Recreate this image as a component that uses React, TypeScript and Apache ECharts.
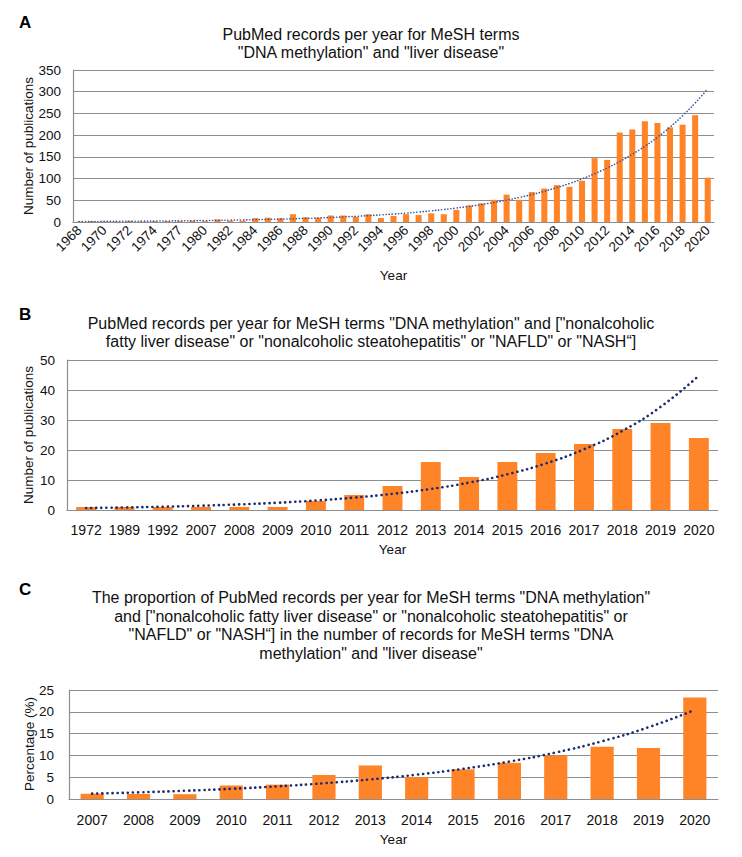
import React, { useEffect, useRef } from "react";
import * as echarts from "echarts";

// Panel A: "DNA methylation" and "liver disease"
const yearsA = [
  "1968", "1969", "1970", "1971", "1972", "1973", "1974", "1976", "1977", "1979",
  "1980", "1981", "1982", "1983", "1984", "1985", "1986", "1987", "1988", "1989",
  "1990", "1991", "1992", "1993", "1994", "1995", "1996", "1997", "1998", "1999",
  "2000", "2001", "2002", "2003", "2004", "2005", "2006", "2007", "2008", "2009",
  "2010", "2011", "2012", "2013", "2014", "2015", "2016", "2017", "2018", "2019", "2020",
];
const countsA = [
  1, 2, 1, 1, 3, 1, 2, 2, 2, 3,
  2, 6, 3, 3, 9, 10, 9, 18, 11, 10,
  15, 15, 12, 18, 9, 14, 18, 16, 20, 18,
  28, 38, 43, 51, 63, 51, 69, 77, 85, 81,
  95, 147, 143, 206, 213, 232, 228, 218, 224, 246, 102,
];

// Panel B: "DNA methylation" and NAFLD/NASH terms
const yearsB = [
  "1972", "1989", "1992", "2007", "2008", "2009", "2010", "2011", "2012",
  "2013", "2014", "2015", "2016", "2017", "2018", "2019", "2020",
];
const countsB = [1, 1, 1, 1, 1, 1, 3, 5, 8, 16, 11, 16, 19, 22, 27, 29, 24];

// Panel C: proportion (%)
const yearsC = [
  "2007", "2008", "2009", "2010", "2011", "2012", "2013",
  "2014", "2015", "2016", "2017", "2018", "2019", "2020",
];
const percentC = [1.2, 1.15, 1.1, 3.1, 3.3, 5.5, 7.7, 5.0, 6.8, 8.3, 10.0, 12.0, 11.7, 23.3];

const titleA = 'PubMed records per year for MeSH terms\n"DNA methylation" and "liver disease"';
const titleB =
  'PubMed records per year for MeSH terms "DNA methylation" and ["nonalcoholic\nfatty liver disease" or "nonalcoholic steatohepatitis" or "NAFLD" or "NASH\u201c]';
const titleC =
  'The proportion of PubMed records per year for MeSH terms "DNA methylation"\nand ["nonalcoholic fatty liver disease" or "nonalcoholic steatohepatitis" or\n"NAFLD" or "NASH\u201c] in the number of records for MeSH terms "DNA\nmethylation" and "liver disease"';
const yNameCount = "Number of publications";
const yNamePct = "Percentage (%)";

// Exponential trendline (least squares on ln(y) vs. category index), as in a spreadsheet trendline
function expTrend(vals: number[]): number[] {
  const n = vals.length;
  const xs = vals.map((_, i) => i + 1);
  const ly = vals.map((v) => Math.log(v));
  const mx = xs.reduce((s, x) => s + x, 0) / n;
  const my = ly.reduce((s, y) => s + y, 0) / n;
  let sxy = 0;
  let sxx = 0;
  for (let i = 0; i < n; i++) {
    sxy += (xs[i] - mx) * (ly[i] - my);
    sxx += (xs[i] - mx) * (xs[i] - mx);
  }
  const b = sxy / sxx;
  const a = my - b * mx;
  return xs.map((x) => +Math.exp(a + b * x).toFixed(3));
}

const FONT = "'Liberation Sans', Arial, sans-serif";
const BAR = "#FF8427";
const GRID = "#8e8e8e";

export default function App() {
  const ref = useRef<HTMLDivElement>(null);
  useEffect(() => {
    document.body.style.margin = "0";
    document.body.style.overflow = "hidden";
    if (!ref.current) return;
    const chart = echarts.init(ref.current, undefined, { renderer: "svg" });

    const yAxisBase = (idx: number, max: number, interval: number, margin: number) => ({
      type: "value",
      gridIndex: idx,
      min: 0,
      max,
      interval,
      axisLine: { show: true, lineStyle: { color: GRID, width: 1.2 } },
      axisTick: { show: false },
      axisLabel: { fontFamily: FONT, fontSize: 13.5, color: "#111", margin },
      splitLine: { show: true, lineStyle: { color: GRID, width: 1.2 } },
    });

    const xAxisBase = (idx: number, data: string[], nameGap: number, label: any) => ({
      type: "category",
      gridIndex: idx,
      data,
      name: "Year",
      nameLocation: "middle",
      nameGap,
      nameTextStyle: { fontFamily: FONT, fontSize: 13.5, color: "#111", verticalAlign: "top" },
      axisLine: { show: true, lineStyle: { color: GRID, width: 1.2 } },
      axisTick: { show: false },
      axisLabel: { fontFamily: FONT, fontSize: 14, color: "#111", ...label },
    });

    const letter = (text: string, top: number) => ({
      text,
      left: 14,
      top,
      textStyle: { fontFamily: FONT, fontSize: 17, fontWeight: "bold", color: "#000" },
    });
    const head = (text: string, top: number, lh: number) => ({
      text,
      left: "center",
      top,
      textStyle: { fontFamily: FONT, fontSize: 16, fontWeight: "normal", color: "#111", lineHeight: lh },
    });
    const yName = (text: string, x: number, y: number) => ({
      type: "text",
      x,
      y,
      rotation: Math.PI / 2,
      style: {
        text,
        fontFamily: FONT,
        fontSize: 13.5,
        fill: "#111",
        align: "center",
        verticalAlign: "middle",
      },
    });

    chart.setOption({
      animation: false,
      backgroundColor: "#fff",
      title: [
        letter("A", 9),
        head(titleA, 20, 18),
        letter("B", 301),
        head(titleB, 309, 18.5),
        letter("C", 576),
        head(titleC, 583, 18.7),
      ],
      graphic: [
        yName(yNameCount, 28, 146),
        yName(yNameCount, 28, 435),
        yName(yNamePct, 29, 744),
      ],
      grid: [
        { left: 73, right: 28, top: 70, height: 152 },
        { left: 67, right: 24, top: 360, height: 150 },
        { left: 69, right: 24, top: 690, height: 109 },
      ],
      xAxis: [
        xAxisBase(0, yearsA, 46, { rotate: 45, interval: 1, margin: 6, fontSize: 13.5 }),
        xAxisBase(1, yearsB, 32, { interval: 0, margin: 13 }),
        xAxisBase(2, yearsC, 33, { interval: 0, margin: 14 }),
      ],
      yAxis: [
        yAxisBase(0, 350, 50, 12),
        yAxisBase(1, 50, 10, 12),
        yAxisBase(2, 25, 5, 15),
      ],
      series: [
        {
          type: "bar",
          xAxisIndex: 0,
          yAxisIndex: 0,
          data: countsA,
          barWidth: "48%",
          itemStyle: { color: BAR },
        },
        {
          type: "line",
          xAxisIndex: 0,
          yAxisIndex: 0,
          data: expTrend(countsA),
          showSymbol: false,
          smooth: true,
          z: 5,
          lineStyle: { color: "#3552a3", width: 1.6, type: [0.1, 3], cap: "round" },
        },
        {
          type: "bar",
          xAxisIndex: 1,
          yAxisIndex: 1,
          data: countsB,
          barWidth: "52%",
          itemStyle: { color: BAR },
        },
        {
          type: "line",
          xAxisIndex: 1,
          yAxisIndex: 1,
          data: expTrend(countsB),
          showSymbol: false,
          smooth: true,
          z: 5,
          lineStyle: { color: "#1b2b6e", width: 2.6, type: [0.1, 5], cap: "round" },
        },
        {
          type: "bar",
          xAxisIndex: 2,
          yAxisIndex: 2,
          data: percentC,
          barWidth: "50%",
          itemStyle: { color: BAR },
        },
        {
          type: "line",
          xAxisIndex: 2,
          yAxisIndex: 2,
          data: expTrend(percentC),
          showSymbol: false,
          smooth: true,
          z: 5,
          lineStyle: { color: "#1b2b6e", width: 2.6, type: [0.1, 5], cap: "round" },
        },
      ],
    });
    return () => chart.dispose();
  }, []);
  return <div ref={ref} style={{ width: 742, height: 857 }} />;
}
